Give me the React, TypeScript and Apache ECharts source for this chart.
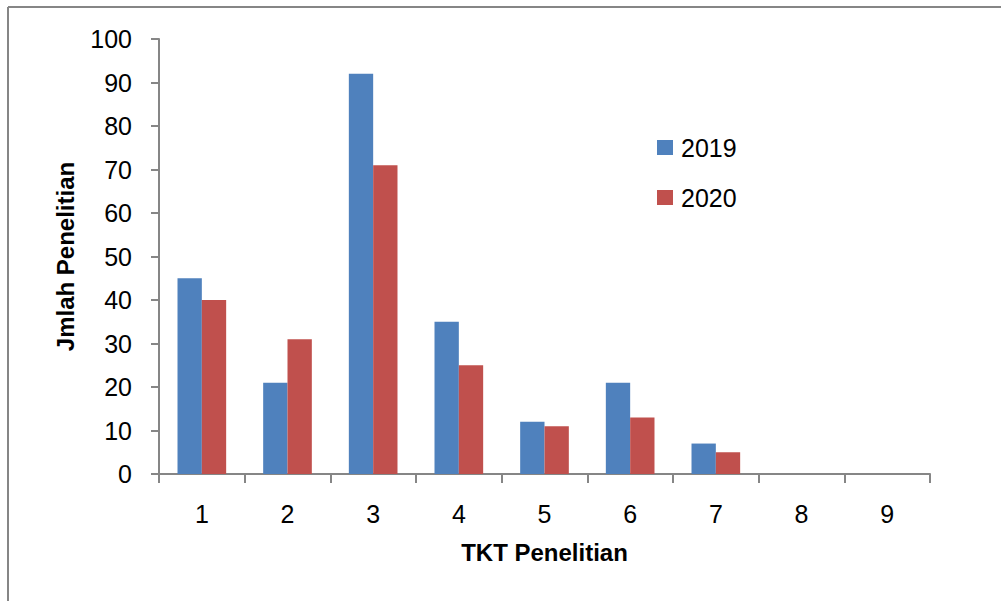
import React, { useEffect, useRef } from "react";
import * as echarts from "echarts";

const categories = ["1", "2", "3", "4", "5", "6", "7", "8", "9"];
const values2019 = [45, 21, 92, 35, 12, 21, 7, 0, 0];
const values2020 = [40, 31, 71, 25, 11, 13, 5, 0, 0];
const seriesNames = ["2019", "2020"];
const xTitle = "TKT Penelitian";
const yTitle = "Jmlah Penelitian";

const FONT = "'Liberation Sans', 'Open Sans', sans-serif";
const AXIS = "#868686";

export default function App() {
  const ref = useRef<HTMLDivElement>(null);
  useEffect(() => {
    if (!ref.current) return;
    const chart = echarts.init(ref.current, undefined, { renderer: "svg" });
    chart.setOption({
      animation: false,
      backgroundColor: "#ffffff",
      textStyle: { fontFamily: FONT },
      grid: { left: 159, right: 71, top: 39, bottom: 127 },
      legend: {
        orient: "vertical",
        left: 652,
        top: 130,
        itemWidth: 16,
        itemHeight: 15,
        itemGap: 25,
        icon: "rect",
        textStyle: { fontSize: 25, color: "#000", fontFamily: FONT, padding: [0, 0, 0, 3] },
        data: seriesNames,
      },
      xAxis: {
        type: "category",
        data: categories,
        name: xTitle,
        nameLocation: "middle",
        nameGap: 66,
        nameTextStyle: { fontSize: 24, fontWeight: "bold", color: "#000", fontFamily: FONT },
        axisLine: { lineStyle: { color: AXIS, width: 2 } },
        axisTick: { show: true, length: 9, lineStyle: { color: AXIS, width: 2 }, alignWithLabel: false },
        axisLabel: { fontSize: 25, color: "#000", margin: 27, fontFamily: FONT },
      },
      yAxis: {
        type: "value",
        min: 0,
        max: 100,
        interval: 10,
        name: yTitle,
        nameLocation: "middle",
        nameGap: 82,
        nameTextStyle: { fontSize: 24, fontWeight: "bold", color: "#000", fontFamily: FONT },
        axisLine: { show: true, lineStyle: { color: AXIS, width: 2 } },
        axisTick: { show: true, length: 8, inside: false, lineStyle: { color: AXIS, width: 2 } },
        splitLine: { show: false },
        axisLabel: { fontSize: 25, color: "#000", margin: 27, fontFamily: FONT },
      },
      series: [
        {
          name: seriesNames[0],
          type: "bar",
          data: values2019,
          barWidth: "28.4%",
          barGap: "0%",
          itemStyle: { color: "#4F81BD" },
        },
        {
          name: seriesNames[1],
          type: "bar",
          data: values2020,
          barWidth: "28.4%",
          barGap: "0%",
          itemStyle: { color: "#C0504D" },
        },
      ],
      graphic: [
        { type: "line", shape: { x1: 8, y1: 7, x2: 1001, y2: 7 }, style: { stroke: AXIS, lineWidth: 2 } },
        { type: "line", shape: { x1: 8, y1: 7, x2: 8, y2: 601 }, style: { stroke: AXIS, lineWidth: 2 } },
      ],
    });
    return () => chart.dispose();
  }, []);
  return (
    <div
      ref={ref}
      style={{ position: "fixed", left: 0, top: 0, width: 1001, height: 601 }}
    />
  );
}
